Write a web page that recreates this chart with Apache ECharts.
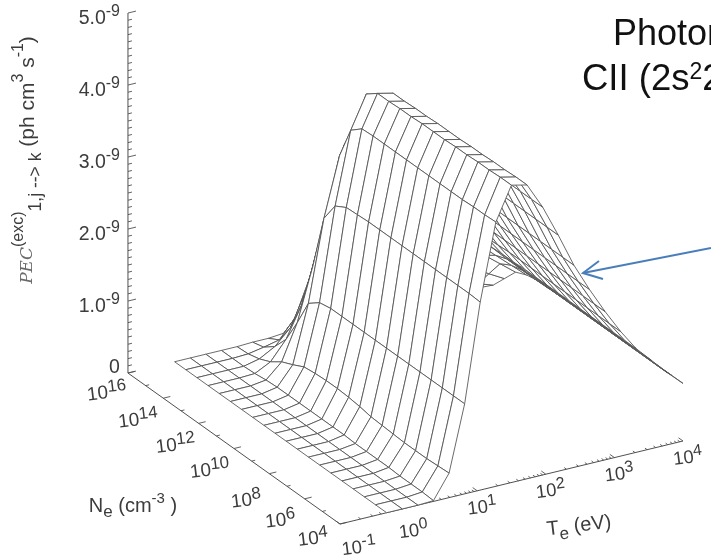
<!DOCTYPE html>
<html><head><meta charset="utf-8">
<style>html,body{margin:0;padding:0;background:#fff;overflow:hidden}#c{width:711px;height:556px}</style>
<script src="https://cdn.jsdelivr.net/npm/echarts@6/dist/echarts.min.js"></script>
</head><body><div id="c"></div>
<script>
// log10(Te / eV) for each grid line, log10(Ne / cm-3) for each grid line
const logTe = [-0.32,-0.093,0.135,0.362,0.59,0.817,1.044,1.272,1.499,1.727,1.954,2.181,2.409,2.636,2.864,3.091,3.318,3.546,3.773,4];
const logNe = [4,4.632,5.263,5.895,6.526,7.158,7.789,8.421,9.053,9.684,10.316,10.947,11.579,12.211,12.842,13.474,14.105,14.737,15.368,16];
// PEC in units of 1e-9, one row per Ne grid line, one value per Te grid line
const pecNe00 = [0,0,0,.01,.34,1.25,2.61,3.67,4.13,4.08,3.72,3.28,2.81,2.42,2.06,1.73,1.44,1.22,1.00,.80];
const pecNe01 = [0,0,0,.02,.33,1.25,2.62,3.66,4.13,4.08,3.72,3.28,2.81,2.42,2.06,1.73,1.44,1.22,1.00,.80];
const pecNe02 = [0,0,0,.02,.32,1.25,2.62,3.66,4.12,4.07,3.72,3.28,2.81,2.42,2.06,1.73,1.44,1.22,1.00,.80];
const pecNe03 = [0,0,0,.02,.32,1.25,2.62,3.65,4.12,4.07,3.72,3.28,2.81,2.42,2.06,1.73,1.44,1.22,1.00,.80];
const pecNe04 = [0,0,0,.03,.32,1.25,2.62,3.65,4.11,4.06,3.72,3.28,2.81,2.42,2.06,1.73,1.44,1.22,1.00,.80];
const pecNe05 = [0,0,0,.03,.33,1.25,2.62,3.65,4.11,4.06,3.72,3.28,2.81,2.42,2.06,1.73,1.44,1.22,1.00,.80];
const pecNe06 = [0,0,0,.03,.34,1.25,2.62,3.65,4.10,4.05,3.72,3.28,2.81,2.42,2.06,1.73,1.44,1.22,1.00,.80];
const pecNe07 = [0,0,0,.03,.35,1.25,2.62,3.65,4.10,4.05,3.72,3.28,2.81,2.42,2.06,1.73,1.44,1.22,1.00,.80];
const pecNe08 = [0,0,0,.04,.38,1.25,2.62,3.65,4.10,4.05,3.72,3.28,2.81,2.42,2.06,1.73,1.44,1.22,1.00,.80];
const pecNe09 = [0,0,0,.04,.40,1.25,2.62,3.65,4.09,4.04,3.72,3.28,2.81,2.42,2.06,1.73,1.44,1.22,1.00,.80];
const pecNe10 = [0,0,0,.04,.41,1.25,2.62,3.65,4.09,4.04,3.71,3.28,2.81,2.42,2.06,1.73,1.44,1.22,1.00,.80];
const pecNe11 = [0,0,0,.04,.41,1.25,2.61,3.65,4.08,4.03,3.70,3.27,2.80,2.41,2.05,1.72,1.43,1.21,1.00,.80];
const pecNe12 = [0,0,0,.04,.40,1.25,2.60,3.64,4.08,4.03,3.68,3.25,2.78,2.40,2.04,1.71,1.43,1.21,.99,.79];
const pecNe13 = [0,0,0,.04,.38,1.22,2.51,3.51,3.96,3.88,3.62,3.20,2.75,2.37,2.02,1.70,1.42,1.20,.99,.79];
const pecNe14 = [0,0,0,.04,.30,1.10,2.23,3.05,3.43,3.40,3.18,2.84,2.48,2.16,1.86,1.58,1.33,1.14,.95,.76];
const pecNe15 = [0,0,0,.03,.23,.72,1.45,2.25,3.03,3.00,2.82,2.54,2.20,1.92,1.67,1.42,1.20,1.03,.86,.69];
const pecNe16 = [0,0,0,.01,.12,.38,.80,1.46,2.36,2.30,2.17,1.92,1.66,1.44,1.24,1.05,.88,.74,.61,.49];
const pecNe17 = [0,0,0,0,.05,.17,.38,.84,1.60,1.52,1.41,1.22,1.04,.90,.76,.64,.53,.44,.36,.29];
const pecNe18 = [0,0,0,0,.01,.05,.10,.35,.89,.80,.74,.64,.55,.47,.40,.33,.28,.23,.19,.15];
const pecNe19 = [0,0,0,0,0,.01,.01,.03,.26,.24,.22,.20,.17,.14,.12,.10,.09,.07,.06,.05];
const pecRows = [pecNe00,pecNe01,pecNe02,pecNe03,pecNe04,pecNe05,pecNe06,pecNe07,pecNe08,pecNe09,pecNe10,pecNe11,pecNe12,pecNe13,pecNe14,pecNe15,pecNe16,pecNe17,pecNe18,pecNe19];
// axis ticks
const zMajor = [0,1,2,3,4,5];
const zLabels = ['0','1.0|-9','2.0|-9','3.0|-9','4.0|-9','5.0|-9'];
const neMajor = [4,6,8,10,12,14,16];
const teMajor = [-1,0,1,2,3,4];

// oblique view of the 3-D box: plot position of (log Te, log Ne, PEC)
const VIEW = {x0:340,y0:524,xTe:68.6,yTe:-16.6,xNe:-17.67,yNe:-12.58,yZ:-72};
function proj(te,ne,z){
  const u=te+1,v=ne-4;
  return [VIEW.x0+VIEW.xTe*u+VIEW.xNe*v, VIEW.y0+VIEW.yTe*u+VIEW.yNe*v+VIEW.yZ*z];
}
const INK='#3c3c3c', WIRE='#505050';

// cells, painted from the far corner to the near one so the surface hides itself
const cells=[];
for(let j=pecRows.length-2;j>=0;j--)for(let i=logTe.length-2;i>=0;i--)cells.push([i,j]);

// tick segments in plot coordinates
const segs=[];
function zTick(z,major){const a=proj(-1,16,z);const k=major?8:4;segs.push([a[0],a[1],a[0]+k,a[1]-k*0.242]);}
for(let n=0;n<=50;n++)zTick(n/10,n%10===0);
for(let n=4;n<=16;n++){const a=proj(-1,n,0);const k=n%2===0?7:3.5;segs.push([a[0],a[1],a[0]+k,a[1]-k*0.242]);}
for(const d of teMajor){
  const a=proj(d,4,0);segs.push([a[0],a[1],a[0]-4.5,a[1]-3.2]);
  if(d<4)for(let m=2;m<=9;m++){const b=proj(d+Math.log10(m),4,0);segs.push([b[0],b[1],b[0]-2.2,b[1]-1.6]);}
}

// text labels
const stZ={n:{fontSize:19.5},s:{fontSize:16},H:30};
const stTk={n:{fontSize:19},s:{fontSize:17},H:28};
const stTe={n:{fontSize:18.5},s:{fontSize:16},H:28};
const labels=[];
zMajor.forEach((z,k)=>{
  const a=proj(-1,16,z);const p=zLabels[k].split('|');
  labels.push({text:p[1]?`{n|${p[0]}}{s|${p[1]}}`:`{n|${p[0]}}`,x:a[0]-8,y:a[1]+(p[1]?6:-5),rot:0,st:stZ,align:'right'});
});
const neNudge=[[-3,-7],[0,0],[1,5],[0,0],[1,0],[-1,0],[3,-2]];
neMajor.forEach((n,k)=>{
  const a=proj(-1,n,0);
  labels.push({text:`{n|10}{s|${n}}`,x:a[0]-24+neNudge[k][0],y:a[1]+22+neNudge[k][1],rot:0.12,st:stTk,align:'center'});
});
const teNudge=[[14,8],[0,8],[0,1],[0,1],[0,1],[0,1]];
teMajor.forEach((d,k)=>{
  const a=proj(d,4,0);
  labels.push({text:`{n|10}{s|${d}}`,x:a[0]+5+teNudge[k][0],y:a[1]+16+teNudge[k][1],rot:0.13,st:stTe,align:'center'});
});
function richOf(st){
  const H=st.H,out={};
  out.n={fontSize:st.n.fontSize,lineHeight:H,verticalAlign:'middle',fontFamily:'Liberation Sans',fill:INK};
  out.s={fontSize:st.s.fontSize,lineHeight:H,verticalAlign:'top',fontFamily:'Liberation Sans',fill:INK};
  out.b={fontSize:st.b?st.b.fontSize:14,lineHeight:H,verticalAlign:'bottom',fontFamily:'Liberation Sans',fill:INK};
  out.f={fontSize:17,lineHeight:H,verticalAlign:'middle',fontFamily:'DejaVu Serif',fontStyle:'italic',fill:'#6a6a6a'};
  return out;
}
labels.push({text:'{n|N}{b|e}{n| (cm}{s|-3}{n| )}',x:133,y:506,rot:0,st:{n:{fontSize:20},s:{fontSize:15},b:{fontSize:17},H:30},align:'center'});
labels.push({text:'{n|T}{b|e}{n| (eV)}',x:579,y:526,rot:0.12,st:{n:{fontSize:20},s:{fontSize:15},b:{fontSize:17},H:30},align:'center'});
labels.push({text:'{f|PEC}{s|(exc)}{b|1,j --> k}{n| (ph cm}{s|3}{n| s}{s|-1}{n|)}',x:28,y:160,rot:Math.PI/2,st:{n:{fontSize:21},s:{fontSize:16},b:{fontSize:17.5},H:34},align:'center'});

const chart=echarts.init(document.getElementById('c'),null,{renderer:'canvas'});
chart.setOption({
  animation:false,backgroundColor:'#fff',
  grid:{left:0,right:0,top:0,bottom:0,containLabel:false},
  xAxis:{type:'value',min:0,max:711,show:false},
  yAxis:{type:'value',min:0,max:556,inverse:true,show:false},
  tooltip:{show:false},
  series:[
    {type:'line',silent:true,symbol:'none',lineStyle:{color:WIRE,width:1},data:[proj(-1,16,5),proj(-1,16,0),proj(-1,4,0),proj(4,4,0)],z:1},
    {type:'custom',silent:true,z:1,clip:false,data:segs,renderItem(p,api){
      const a=api.coord([api.value(0),api.value(1)]),b=api.coord([api.value(2),api.value(3)]);
      return {type:'line',shape:{x1:a[0],y1:a[1],x2:b[0],y2:b[1]},style:{stroke:WIRE,lineWidth:0.9}};
    },encode:{x:0,y:1}},
    {type:'custom',silent:true,z:2,clip:false,data:cells,renderItem(p,api){
      const i=api.value(0),j=api.value(1);
      const pts=[[i,j],[i+1,j],[i+1,j+1],[i,j+1]].map(([a,b])=>api.coord(proj(logTe[a],logNe[b],pecRows[b][a])));
      return {type:'polygon',shape:{points:pts},style:{fill:'#fff',stroke:WIRE,lineWidth:0.85,lineJoin:'round'}};
    },encode:{x:0,y:1}},
    {type:'custom',silent:true,z:3,clip:false,data:labels.map((l,k)=>[k,0]),renderItem(p,api){
      const l=labels[p.dataIndex],c=api.coord([l.x,l.y]);
      return {type:'text',x:c[0],y:c[1],rotation:l.rot,style:{text:l.text,rich:richOf(l.st),align:l.align,verticalAlign:'middle',fill:INK,x:0,y:0}};
    },encode:{x:0,y:1}}
  ],
  graphic:[
    {type:'text',x:613,y:53,style:{text:'Photon',fontSize:36,fontFamily:'Liberation Sans',fill:'#111',textVerticalAlign:'bottom'}},
    {type:'text',x:582,y:99,style:{text:'CII (2s{s|2}2',fontSize:36.5,fontFamily:'Liberation Sans',fill:'#111',textVerticalAlign:'bottom',
      rich:{s:{fontSize:23,verticalAlign:'top',lineHeight:38,fontFamily:'Liberation Sans',fill:'#111'}}}},
    {type:'polyline',shape:{points:[[711,248],[583,273]]},style:{stroke:'#4a7ebb',lineWidth:2,fill:null}},
    {type:'polyline',shape:{points:[[599,261],[583,273],[603,279]]},style:{stroke:'#4a7ebb',lineWidth:2,fill:null}}
  ]
});
</script></body></html>
